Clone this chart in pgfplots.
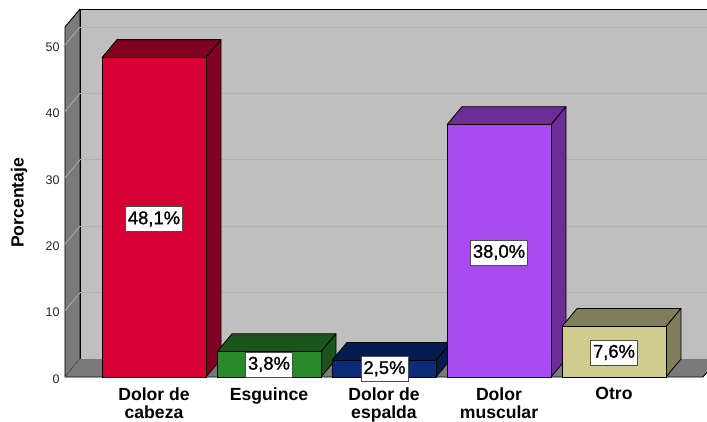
\documentclass[border=0pt]{standalone}
\usepackage{fontspec}
\setmainfont{Liberation Sans}
\newfontfamily\fatfont[FakeBold=1.2]{Liberation Sans}
\usepackage{pgfplots}
\pgfplotsset{compat=1.18}
\definecolor{wall}{HTML}{BFBFBF}
\definecolor{side}{HTML}{7A7A7A}
\definecolor{gridb}{HTML}{B0B0B0}
\definecolor{gridl}{HTML}{A8A8A8}
\definecolor{ra}{HTML}{D70032}\definecolor{rb}{HTML}{80001F}
\definecolor{ga}{HTML}{288A2A}\definecolor{gb}{HTML}{1A561C}
\definecolor{na}{HTML}{0B2A78}\definecolor{nb}{HTML}{061C50}
\definecolor{pa}{HTML}{AA4BF2}\definecolor{pb}{HTML}{6A2E96}
\definecolor{ka}{HTML}{D0CC8E}\definecolor{kb}{HTML}{807D5A}
\begin{document}
\begin{tikzpicture}
\path[use as bounding box] (-65pt,-44pt) rectangle (642pt,377pt);
\begin{axis}[
  scale only axis, width=642pt, height=368pt,
  xmin=65, xmax=707, ymin=0, ymax=55.42,
  clip=false,
  axis line style={draw=none},
  major tick style={draw=none},
  xtick={154,269,384,499,614},
  xticklabels={{Dolor de\\cabeza},Esguince,{Dolor de\\espalda},{Dolor\\muscular},Otro},
  xticklabel style={align=center, font=\fontsize{17.6}{18}\selectfont\bfseries, text=black, anchor=north, yshift=-7pt},
  ytick={0,10,20,30,40,50},
  yticklabel style={font=\fontsize{12.5}{13}\selectfont, text=black!85, xshift=-2pt, yshift=-2pt},
  /pgf/number format/assume math mode=true,
  ylabel={Porcentaje},
  ylabel style={at={(axis description cs:-0.0717,0.4735)}, anchor=center, font=\fontsize{17.6}{18}\selectfont\bfseries},
  every axis plot/.append style={line join=round},
]
% back wall and left wall
\addplot[fill=wall, draw=black, line width=0.9pt] coordinates {(80,2.71)(707,2.71)(707,55.42)(80,55.42)(80,2.71)};
\addplot[fill=side, draw=black, line width=0.9pt] coordinates {(65,0)(80,2.71)(80,55.42)(65,52.71)(65,0)};
% grid lines
\addplot[gridb, line width=0.9pt] coordinates {(80,12.71)(707,12.71)};
\addplot[gridb, line width=0.9pt] coordinates {(80,22.71)(707,22.71)};
\addplot[gridb, line width=0.9pt] coordinates {(80,32.71)(707,32.71)};
\addplot[gridb, line width=0.9pt] coordinates {(80,42.71)(707,42.71)};
\addplot[gridb, line width=0.9pt] coordinates {(80,52.71)(707,52.71)};
\addplot[gridl, line width=0.9pt] coordinates {(65,10)(80,12.71)};
\addplot[gridl, line width=0.9pt] coordinates {(65,20)(80,22.71)};
\addplot[gridl, line width=0.9pt] coordinates {(65,30)(80,32.71)};
\addplot[gridl, line width=0.9pt] coordinates {(65,40)(80,42.71)};
\addplot[gridl, line width=0.9pt] coordinates {(65,50)(80,52.71)};
% floor
\addplot[fill=side, draw=none] coordinates {(65,0)(703,0)(707,0.7)(707,2.71)(80,2.71)(65,0)};
\addplot[black, line width=0.9pt] coordinates {(65,0)(703,0)(707,0.7)};
\addplot[black!60, line width=0.6pt] coordinates {(65,0)(80,2.71)};
% bar 1
\addplot[fill=rb, draw=black, line width=0.8pt] coordinates {(102,48.1)(206,48.1)(221,50.81)(117,50.81)(102,48.1)};
\addplot[fill=rb, draw=black, line width=0.8pt] coordinates {(206,0)(221,2.71)(221,50.81)(206,48.1)(206,0)};
\addplot[fill=ra, draw=black, line width=0.8pt] coordinates {(102,0)(206,0)(206,48.1)(102,48.1)(102,0)};
% bar 2
\addplot[fill=gb, draw=black, line width=0.8pt] coordinates {(217,3.8)(321,3.8)(336,6.51)(232,6.51)(217,3.8)};
\addplot[fill=gb, draw=black, line width=0.8pt] coordinates {(321,0)(336,2.71)(336,6.51)(321,3.8)(321,0)};
\addplot[fill=ga, draw=black, line width=0.8pt] coordinates {(217,0)(321,0)(321,3.8)(217,3.8)(217,0)};
% bar 3
\addplot[fill=nb, draw=black, line width=0.8pt] coordinates {(332,2.5)(436,2.5)(451,5.21)(347,5.21)(332,2.5)};
\addplot[fill=nb, draw=black, line width=0.8pt] coordinates {(436,0)(451,2.71)(451,5.21)(436,2.5)(436,0)};
\addplot[fill=na, draw=black, line width=0.8pt] coordinates {(332,0)(436,0)(436,2.5)(332,2.5)(332,0)};
% bar 4
\addplot[fill=pb, draw=black, line width=0.8pt] coordinates {(447,38)(551,38)(566,40.71)(462,40.71)(447,38)};
\addplot[fill=pb, draw=black, line width=0.8pt] coordinates {(551,0)(566,2.71)(566,40.71)(551,38)(551,0)};
\addplot[fill=pa, draw=black, line width=0.8pt] coordinates {(447,0)(551,0)(551,38)(447,38)(447,0)};
% bar 5
\addplot[fill=kb, draw=black, line width=0.8pt] coordinates {(562,7.6)(666,7.6)(681,10.31)(577,10.31)(562,7.6)};
\addplot[fill=kb, draw=black, line width=0.8pt] coordinates {(666,0)(681,2.71)(681,10.31)(666,7.6)(666,0)};
\addplot[fill=ka, draw=black, line width=0.8pt] coordinates {(562,0)(666,0)(666,7.6)(562,7.6)(562,0)};
% value labels
\addplot[only marks, mark=none, point meta=explicit symbolic,
  nodes near coords,
  nodes near coords style={anchor=center, fill=white, draw=black!70, line width=0.7pt,
     font=\fontsize{18.4}{18}\selectfont\fatfont, text=black,
     inner xsep=2.5pt, inner ysep=0pt, minimum height=25pt}]
 coordinates {(154,23.8)[48,1\%] (269,1.9)[3,8\%] (384.5,1.25)[2,5\%] (499,18.75)[38,0\%] (614,3.7)[7,6\%]};
\end{axis}
\end{tikzpicture}
\end{document}
